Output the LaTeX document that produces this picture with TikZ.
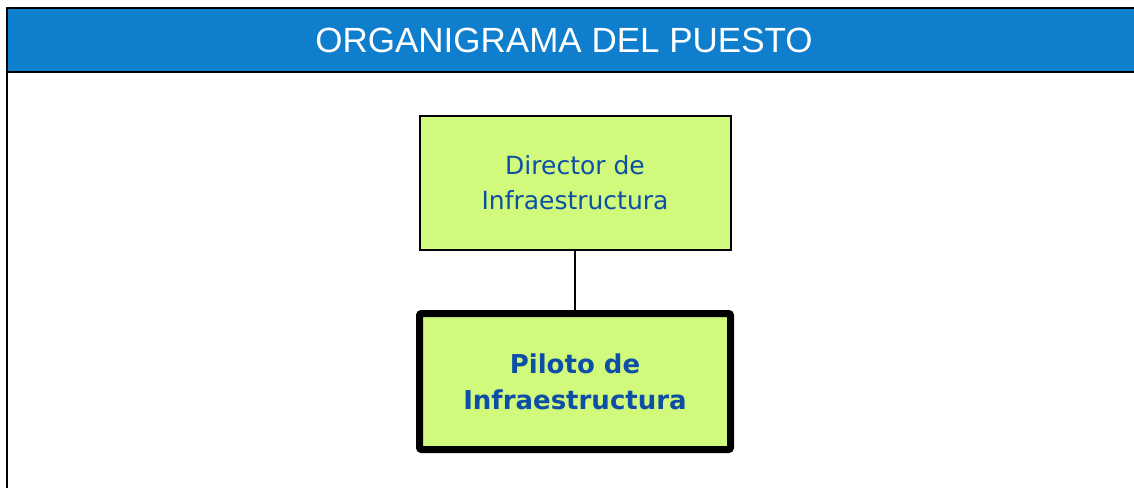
\documentclass[tikz,border=0pt]{standalone}
\usepackage{fontspec}
\setmainfont{DejaVu Sans}
\newfontfamily\headfont{Liberation Sans}
\definecolor{headblue}{HTML}{0E7ECD}
\definecolor{boxgreen}{HTML}{D1F97B}
\definecolor{txtblue}{HTML}{0D4FA6}
\begin{document}
\begin{tikzpicture}[x=1pt,y=-1pt,inner sep=0pt,outer sep=0pt,
postbox/.style={draw,rectangle,fill=boxgreen,text=txtblue,align=center,minimum width=311pt,minimum height=134pt,line width=2pt,font=\fontsize{25}{35}\selectfont},
mainbox/.style={postbox,minimum height=136pt,line width=7pt,rounded corners=2pt,font=\fontsize{26}{36}\selectfont\bfseries}]
\useasboundingbox (0,0) rectangle (1134,487);
\clip (0,0) rectangle (1134,487);
\fill[headblue] (7,8) rectangle (1140,72);
\draw[line width=2.5pt] (7,500) -- (7,8) -- (1140,8);
\draw[line width=2.5pt] (7,72) -- (1140,72);
\node[text=white,font=\headfont\fontsize{35}{35}\selectfont] (title) at (564,40) {ORGANIGRAMA DEL PUESTO};
\draw (575,183) node[postbox] (dir) {Director de\\Infraestructura};
\draw (575,381.5) node[mainbox] (pil) {Piloto de\\Infraestructura};
\draw[line width=2pt] (dir.south) -- (pil.north);
\end{tikzpicture}
\end{document}
